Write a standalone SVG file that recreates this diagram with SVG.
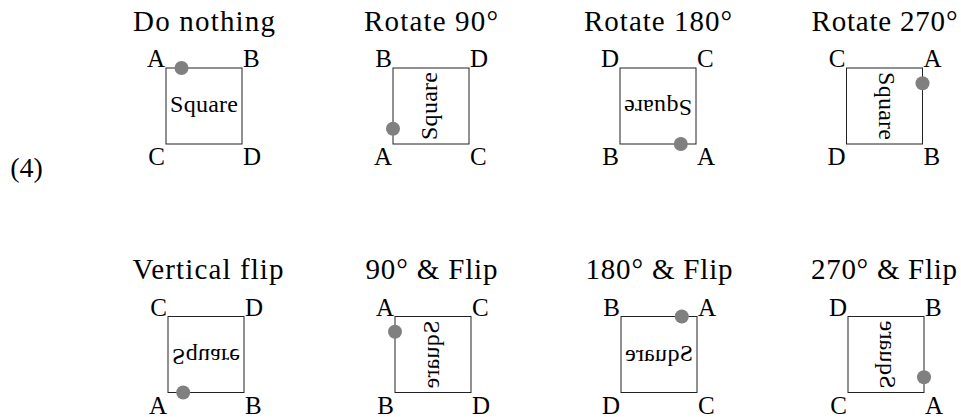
<svg xmlns="http://www.w3.org/2000/svg" width="961" height="417" viewBox="0 0 961 417">
<style>
text{font-family:"Liberation Serif","Times New Roman",serif;fill:#000}
.title{font-size:29px;text-anchor:middle}
.lbl{font-size:25px}
.e{text-anchor:end}
.s{text-anchor:start}
.sq{fill:#fff;stroke:#222;stroke-width:1}
.in{font-size:24px;text-anchor:middle}
.dot{fill:#808080}
</style>
<rect width="961" height="417" fill="#fff"/>
<text x="26.5" y="177" style="font-size:28px;text-anchor:middle">(4)</text>

<g id="p1">
<text class="title" x="204" y="31" textLength="142" lengthAdjust="spacing">Do nothing</text>
<rect class="sq" x="166" y="68" width="76" height="76"/>
<text class="in" transform="translate(204,106)" x="0" y="6" textLength="68" lengthAdjust="spacing">Square</text>
<circle class="dot" cx="181.5" cy="68" r="7"/>
<text class="lbl e" x="165" y="67">A</text>
<text class="lbl s" x="243" y="67">B</text>
<text class="lbl e" x="165" y="165">C</text>
<text class="lbl s" x="243" y="165">D</text>
</g>

<g id="p2">
<text class="title" x="431" y="31" textLength="134" lengthAdjust="spacing">Rotate 90°</text>
<rect class="sq" x="393" y="68" width="76" height="76"/>
<text class="in" transform="translate(431,106) rotate(-90)" x="0" y="6" textLength="68" lengthAdjust="spacing">Square</text>
<circle class="dot" cx="393" cy="128.8" r="7"/>
<text class="lbl e" x="392" y="67">B</text>
<text class="lbl s" x="470" y="67">D</text>
<text class="lbl e" x="392" y="165">A</text>
<text class="lbl s" x="470" y="165">C</text>
</g>

<g id="p3">
<text class="title" x="658" y="31" textLength="148" lengthAdjust="spacing">Rotate 180°</text>
<rect class="sq" x="620" y="68" width="76" height="76"/>
<text class="in" transform="translate(658,106) rotate(180)" x="0" y="6" textLength="68" lengthAdjust="spacing">Square</text>
<circle class="dot" cx="680.8" cy="144" r="7"/>
<text class="lbl e" x="619" y="67">D</text>
<text class="lbl s" x="697" y="67">C</text>
<text class="lbl e" x="619" y="165">B</text>
<text class="lbl s" x="697" y="165">A</text>
</g>

<g id="p4">
<text class="title" x="884.5" y="31" textLength="146" lengthAdjust="spacing">Rotate 270°</text>
<rect class="sq" x="846.5" y="68" width="76" height="76"/>
<text class="in" transform="translate(884.5,106) rotate(90)" x="0" y="6" textLength="68" lengthAdjust="spacing">Square</text>
<circle class="dot" cx="922.5" cy="83.2" r="7"/>
<text class="lbl e" x="845.5" y="67">C</text>
<text class="lbl s" x="923.5" y="67">A</text>
<text class="lbl e" x="845.5" y="165">D</text>
<text class="lbl s" x="923.5" y="165">B</text>
</g>

<g id="p5">
<text class="title" x="208" y="279" textLength="151" lengthAdjust="spacing">Vertical flip</text>
<rect class="sq" x="168" y="316.5" width="76" height="76"/>
<text class="in" transform="translate(206,354.5) scale(1,-1)" x="0" y="6" textLength="68" lengthAdjust="spacing">Square</text>
<circle class="dot" cx="183.2" cy="392.5" r="7"/>
<text class="lbl e" x="167" y="315.5">C</text>
<text class="lbl s" x="245" y="315.5">D</text>
<text class="lbl e" x="167" y="413.5">A</text>
<text class="lbl s" x="245" y="413.5">B</text>
</g>

<g id="p6">
<text class="title" x="431.5" y="279" textLength="132" lengthAdjust="spacing">90° &amp; Flip</text>
<rect class="sq" x="395" y="316.5" width="76" height="76"/>
<text class="in" transform="translate(433,354.5) scale(1,-1) rotate(-90)" x="0" y="6" textLength="68" lengthAdjust="spacing">Square</text>
<circle class="dot" cx="395" cy="331.7" r="7"/>
<text class="lbl e" x="394" y="315.5">A</text>
<text class="lbl s" x="472" y="315.5">C</text>
<text class="lbl e" x="394" y="413.5">B</text>
<text class="lbl s" x="472" y="413.5">D</text>
</g>

<g id="p7">
<text class="title" x="659" y="279" textLength="147" lengthAdjust="spacing">180° &amp; Flip</text>
<rect class="sq" x="621" y="316.5" width="76" height="76"/>
<text class="in" transform="translate(659,354.5) scale(-1,1)" x="0" y="6" textLength="68" lengthAdjust="spacing">Square</text>
<circle class="dot" cx="681.8" cy="316.5" r="7"/>
<text class="lbl e" x="620" y="315.5">B</text>
<text class="lbl s" x="698" y="315.5">A</text>
<text class="lbl e" x="620" y="413.5">D</text>
<text class="lbl s" x="698" y="413.5">C</text>
</g>

<g id="p8">
<text class="title" x="884" y="279" textLength="146" lengthAdjust="spacing">270° &amp; Flip</text>
<rect class="sq" x="848" y="316.5" width="76" height="76"/>
<text class="in" transform="translate(886,354.5) scale(1,-1) rotate(90)" x="0" y="6" textLength="68" lengthAdjust="spacing">Square</text>
<circle class="dot" cx="924" cy="377.3" r="7"/>
<text class="lbl e" x="847" y="315.5">D</text>
<text class="lbl s" x="925" y="315.5">B</text>
<text class="lbl e" x="847" y="413.5">C</text>
<text class="lbl s" x="925" y="413.5">A</text>
</g>
</svg>
